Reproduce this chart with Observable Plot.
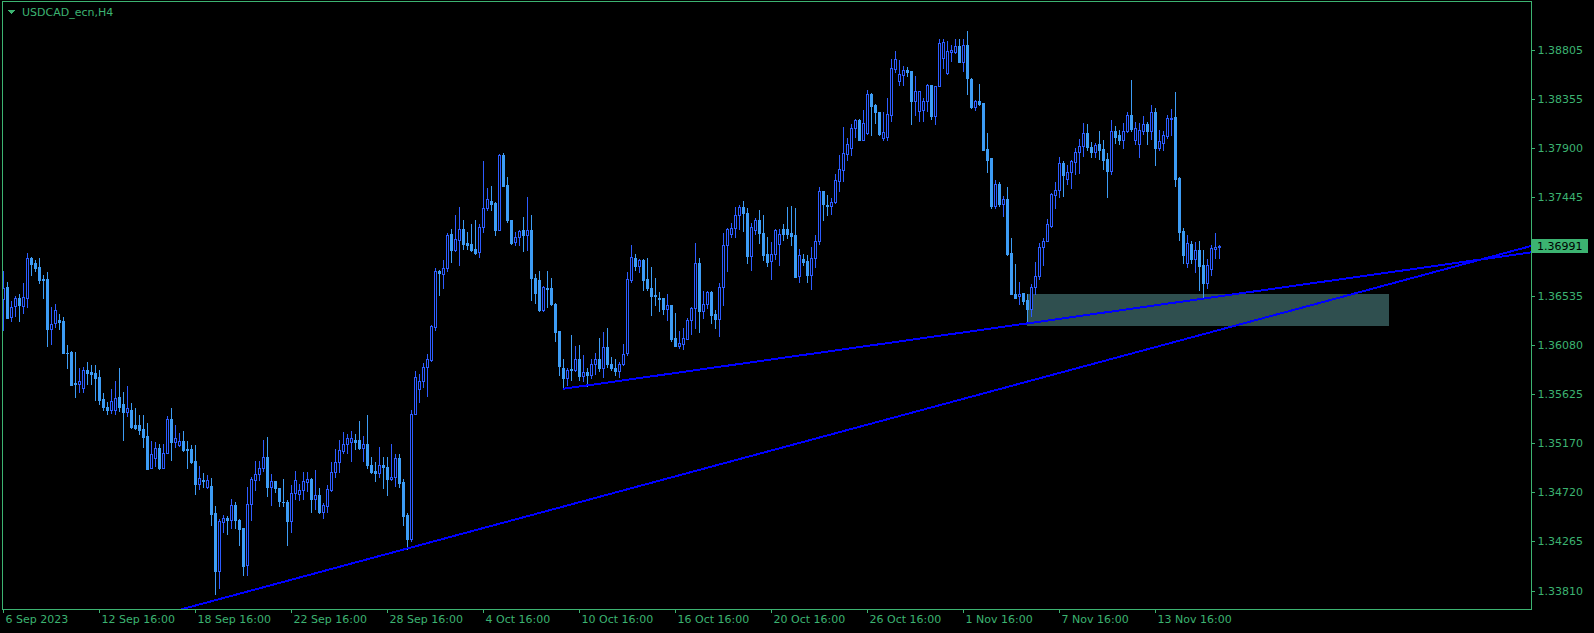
<!DOCTYPE html>
<html><head><meta charset="utf-8">
<script src="https://cdn.jsdelivr.net/npm/d3@7"></script>
<script src="https://cdn.jsdelivr.net/npm/@observablehq/plot@0.6"></script>
<style>html,body{margin:0;padding:0;background:#000;overflow:hidden}#chart{width:1594px;height:633px}</style>
</head><body><div id="chart"></div>
<script>
const symbolTitle = "USDCAD_ecn,H4";

const opens = [
1.36501,1.36608,1.36331,1.36432,1.36504,1.36432,1.36507,1.36879,1.36827,1.36790,
1.36679,1.36679,1.36219,1.36275,1.36309,1.36291,1.36004,1.36007,1.35721,1.35712,
1.35678,1.35839,1.35820,1.35811,1.35774,1.35571,1.35497,1.35478,1.35478,1.35589,
1.35528,1.35453,1.35478,1.35331,1.35331,1.35294,1.35229,1.34936,1.35032,1.35124,
1.34942,1.35079,1.35395,1.35176,1.35152,1.35183,1.35111,1.35109,1.34998,1.34789,
1.34823,1.34765,1.34767,1.34518,1.33984,1.34437,1.34475,1.34456,1.34592,1.34462,
1.34379,1.34038,1.34607,1.34826,1.34884,1.34939,1.35042,1.34761,1.34820,1.34755,
1.34628,1.34628,1.34446,1.34708,1.34696,1.34733,1.34807,1.34832,1.34647,1.34684,
1.34530,1.34585,1.34739,1.34899,1.34991,1.35093,1.35164,1.35176,1.35195,1.35195,
1.35118,1.35164,1.34970,1.34906,1.34894,1.34970,1.34951,1.34832,1.34853,1.35026,
1.34807,1.34502,1.34278,1.35438,1.35669,1.35739,1.35873,1.35931,1.36238,1.36762,
1.36731,1.36781,1.37095,1.36956,1.37048,1.37141,1.37020,1.37011,1.36965,1.36935,
1.37166,1.37341,1.37400,1.37381,1.37135,1.37825,1.37548,1.37233,1.37023,1.37070,
1.37132,1.37088,1.37132,1.36694,1.36670,1.36396,1.36602,1.36596,1.36457,1.36201,
1.35857,1.35771,1.35848,1.35842,1.35949,1.35786,1.35820,1.35795,1.35894,1.35949,
1.35863,1.36054,1.35894,1.35857,1.35830,1.35903,1.35998,1.36670,1.36873,1.36802,
1.36855,1.36679,1.36602,1.36532,1.36504,1.36504,1.36402,1.36448,1.36134,1.36063,
1.36085,1.36131,1.36306,1.36417,1.36834,1.36386,1.36454,1.36566,1.36356,1.36312,
1.36612,1.37002,1.37095,1.37156,1.37272,1.37351,1.37295,1.36894,1.37135,1.37233,
1.37111,1.36910,1.36848,1.36916,1.37011,1.37150,1.37150,1.37104,1.37086,1.36709,
1.36864,1.36848,1.36718,1.36879,1.37032,1.37501,1.37363,1.37356,1.37393,1.37587,
1.37688,1.37840,1.37895,1.38080,1.38148,1.37972,1.38034,1.38388,1.38288,1.38224,
1.37987,1.37993,1.38196,1.38625,1.38510,1.38564,1.38610,1.38601,1.38332,1.38233,
1.38240,1.38325,1.38473,1.38187,1.38464,1.38727,1.38589,1.38778,1.38778,1.38834,
1.38686,1.38849,1.38535,1.38270,1.38332,1.38311,1.37880,1.37803,1.37356,1.37557,
1.37372,1.37427,1.36925,1.36547,1.36525,1.36556,1.36491,1.36402,1.36608,1.36709,
1.36977,1.37032,1.37171,1.37464,1.37504,1.37757,1.37603,1.37674,1.37766,1.37855,
1.37910,1.38034,1.37905,1.37855,1.37935,1.37880,1.37793,1.37680,1.38055,1.38018,
1.37963,1.38049,1.38194,1.37963,1.37926,1.38055,1.38111,1.38055,1.38224,1.37889,
1.37942,1.38009,1.38157,1.38182,1.37618,1.37123,1.36834,1.37011,1.36864,1.36956,
1.36809,1.36649,1.36778,1.36965,1.36981
];
const highs = [
1.36755,1.36654,1.36478,1.36525,1.36541,1.36642,1.36928,1.36891,1.36855,1.36882,
1.36716,1.36750,1.36429,1.36454,1.36356,1.36328,1.36070,1.36016,1.36007,1.35857,
1.35869,1.35921,1.35885,1.35885,1.35845,1.35626,1.35543,1.35665,1.35739,1.35857,
1.35644,1.35693,1.35534,1.35494,1.35423,1.35423,1.35349,1.35183,1.35176,1.35155,
1.35155,1.35416,1.35488,1.35331,1.35257,1.35276,1.35183,1.35146,1.35146,1.34954,
1.34887,1.34875,1.34844,1.34585,1.34465,1.34506,1.34493,1.34647,1.34622,1.34469,
1.34385,1.34765,1.34857,1.35007,1.35007,1.35192,1.35227,1.34878,1.34820,1.34755,
1.34832,1.34638,1.34777,1.34908,1.34786,1.34899,1.34899,1.34841,1.34918,1.34755,
1.34617,1.34777,1.34991,1.35109,1.35192,1.35273,1.35248,1.35278,1.35248,1.35370,
1.35232,1.35425,1.35042,1.34995,1.35134,1.35038,1.35044,1.35155,1.35063,1.35063,
1.34832,1.34518,1.35478,1.35832,1.35808,1.35910,1.35995,1.36263,1.36787,1.36771,
1.36855,1.37111,1.37150,1.37272,1.37347,1.37224,1.37120,1.37187,1.37224,1.37196,
1.37778,1.37526,1.37538,1.37393,1.37834,1.37843,1.37624,1.37233,1.37120,1.37132,
1.37260,1.37439,1.37279,1.36731,1.36762,1.36617,1.36755,1.36694,1.36466,1.36201,
1.35940,1.35857,1.36162,1.36063,1.36072,1.35986,1.35857,1.35940,1.36002,1.36134,
1.36192,1.36232,1.35965,1.35940,1.35921,1.36079,1.36750,1.36993,1.36910,1.36870,
1.36870,1.36873,1.36799,1.36694,1.36566,1.36504,1.36541,1.36448,1.36365,1.36201,
1.36232,1.36319,1.36429,1.37018,1.36879,1.36571,1.36571,1.36571,1.36393,1.36649,
1.37104,1.37156,1.37203,1.37347,1.37365,1.37402,1.37335,1.37203,1.37248,1.37325,
1.37279,1.37074,1.37027,1.37141,1.37150,1.37196,1.37347,1.37356,1.37335,1.36965,
1.36919,1.36901,1.36983,1.37086,1.37532,1.37501,1.37455,1.37433,1.37649,1.37827,
1.38086,1.37987,1.38111,1.38166,1.38163,1.38240,1.38425,1.38404,1.38304,1.38224,
1.38228,1.38351,1.38720,1.38787,1.38711,1.38649,1.38644,1.38601,1.38557,1.38418,
1.38351,1.38486,1.38473,1.38470,1.38905,1.38898,1.38880,1.38843,1.38896,1.38896,
1.38896,1.38972,1.38542,1.38341,1.38488,1.38311,1.38034,1.37803,1.37594,1.37582,
1.37448,1.37536,1.37064,1.36824,1.36658,1.36556,1.36547,1.36633,1.36839,1.37018,
1.37064,1.37242,1.37480,1.37582,1.37813,1.37772,1.37734,1.37787,1.37889,1.37981,
1.38126,1.38111,1.37951,1.37942,1.38055,1.37972,1.37849,1.38148,1.38101,1.38064,
1.38126,1.38224,1.38526,1.38132,1.38126,1.38187,1.38136,1.38295,1.38265,1.38064,
1.38049,1.38194,1.38255,1.38413,1.37627,1.37156,1.37086,1.37032,1.37023,1.37032,
1.36947,1.36864,1.37002,1.37111,1.36995
];
const lows = [
1.36208,1.36319,1.36300,1.36340,1.36300,1.36365,1.36429,1.36718,1.36755,1.36645,
1.36510,1.36063,1.36079,1.36244,1.36219,1.35998,1.35857,1.35700,1.35592,1.35644,
1.35642,1.35712,1.35712,1.35568,1.35525,1.35478,1.35441,1.35450,1.35432,1.35460,
1.35195,1.35416,1.35309,1.35294,1.35248,1.35134,1.34924,1.34936,1.34954,1.34924,
1.34936,1.35072,1.35010,1.35134,1.35139,1.35097,1.34942,1.34986,1.34702,1.34746,
1.34758,1.34752,1.34407,1.33770,1.33831,1.34345,1.34324,1.34385,1.34388,1.34223,
1.33945,1.33945,1.34456,1.34739,1.34823,1.34908,1.34677,1.34594,1.34714,1.34585,
1.34585,1.34225,1.34345,1.34647,1.34641,1.34656,1.34721,1.34534,1.34555,1.34518,
1.34475,1.34530,1.34723,1.34853,1.34899,1.35072,1.35072,1.35000,1.35109,1.35115,
1.35000,1.34939,1.34894,1.34816,1.34857,1.34755,1.34693,1.34826,1.34770,1.34765,
1.34409,1.34185,1.34262,1.35438,1.35550,1.35684,1.35601,1.35924,1.36217,1.36534,
1.36596,1.36762,1.36839,1.36940,1.36811,1.36962,1.36965,1.36940,1.36916,1.36889,
1.37120,1.37319,1.37325,1.37088,1.37135,1.37541,1.37212,1.37008,1.37002,1.37002,
1.36940,1.36956,1.36494,1.36464,1.36386,1.36386,1.36423,1.36441,1.36109,1.35795,
1.35678,1.35700,1.35755,1.35832,1.35755,1.35739,1.35693,1.35771,1.35802,1.35832,
1.35777,1.35869,1.35839,1.35793,1.35774,1.35885,1.35986,1.36658,1.36771,1.36750,
1.36578,1.36578,1.36349,1.36448,1.36386,1.36356,1.36309,1.36109,1.36063,1.36042,
1.36036,1.36125,1.36171,1.36232,1.36196,1.36325,1.36417,1.36279,1.36232,1.36155,
1.36439,1.36755,1.37070,1.37070,1.37150,1.37125,1.36827,1.36771,1.37095,1.37018,
1.36855,1.36802,1.36679,1.36864,1.36809,1.37048,1.37064,1.36995,1.36700,1.36658,
1.36811,1.36658,1.36593,1.36793,1.37011,1.37233,1.37279,1.37285,1.37388,1.37494,
1.37587,1.37781,1.37827,1.37993,1.37963,1.37963,1.38024,1.38011,1.38127,1.38018,
1.37972,1.37972,1.38141,1.38598,1.38480,1.38480,1.38557,1.38111,1.38196,1.38141,
1.38141,1.38233,1.38157,1.38111,1.38464,1.38634,1.38579,1.38695,1.38773,1.38686,
1.38603,1.38388,1.38265,1.38249,1.38288,1.37871,1.37670,1.37341,1.37341,1.37356,
1.37263,1.36903,1.36547,1.36504,1.36454,1.36454,1.36279,1.36340,1.36541,1.36679,
1.36811,1.37032,1.37162,1.37335,1.37439,1.37448,1.37563,1.37526,1.37655,1.37665,
1.37818,1.37871,1.37809,1.37809,1.37796,1.37695,1.37439,1.37649,1.37942,1.37926,
1.37889,1.38039,1.38049,1.37926,1.37813,1.38027,1.37926,1.37981,1.37732,1.37871,
1.37871,1.37987,1.38018,1.37541,1.37048,1.36827,1.36797,1.36827,1.36746,1.36580,
1.36519,1.36602,1.36725,1.36873,1.36873
];
const closes = [
1.36602,1.36325,1.36429,1.36504,1.36439,1.36513,1.36879,1.36824,1.36784,1.36673,
1.36673,1.36219,1.36272,1.36393,1.36284,1.35998,1.35998,1.35709,1.35715,1.35746,
1.35839,1.35814,1.35805,1.35768,1.35565,1.35497,1.35478,1.35553,1.35586,1.35497,
1.35453,1.35488,1.35315,1.35309,1.35288,1.35223,1.34930,1.35069,1.35124,1.34936,
1.35079,1.35386,1.35176,1.35217,1.35183,1.35103,1.35106,1.34991,1.34789,1.34847,
1.34816,1.34823,1.34512,1.33984,1.34444,1.34472,1.34462,1.34592,1.34456,1.34370,
1.34031,1.34607,1.34832,1.34884,1.34939,1.35042,1.34761,1.34820,1.34749,1.34631,
1.34622,1.34446,1.34708,1.34823,1.34739,1.34816,1.34832,1.34647,1.34684,1.34530,
1.34592,1.34746,1.34903,1.34995,1.35100,1.35164,1.35211,1.35211,1.35176,1.35118,
1.35164,1.34963,1.34903,1.34894,1.34963,1.34945,1.34838,1.34857,1.35026,1.34795,
1.34493,1.34278,1.35438,1.35781,1.35739,1.35873,1.35940,1.36247,1.36762,1.36737,
1.36787,1.37086,1.36956,1.37055,1.37141,1.37011,1.37002,1.36956,1.36928,1.37166,
1.37341,1.37427,1.37372,1.37135,1.37825,1.37541,1.37233,1.37018,1.37074,1.37129,
1.37088,1.37132,1.36694,1.36550,1.36396,1.36608,1.36587,1.36457,1.36192,1.35878,
1.35771,1.35839,1.35842,1.35949,1.35786,1.35820,1.35793,1.35903,1.35940,1.35863,
1.36054,1.35894,1.35857,1.35830,1.35903,1.35995,1.36679,1.36891,1.36802,1.36855,
1.36673,1.36596,1.36525,1.36525,1.36497,1.36402,1.36448,1.36125,1.36063,1.36095,
1.36134,1.36309,1.36417,1.36834,1.36386,1.36454,1.36566,1.36349,1.36312,1.36612,
1.37002,1.37141,1.37156,1.37279,1.37351,1.37295,1.36894,1.37166,1.37224,1.37111,
1.36903,1.36839,1.36916,1.37132,1.37095,1.37095,1.37095,1.37079,1.36700,1.36901,
1.36839,1.36718,1.36879,1.37039,1.37501,1.37378,1.37356,1.37397,1.37594,1.37695,
1.37843,1.37932,1.38080,1.38148,1.37972,1.38120,1.38388,1.38279,1.38224,1.38024,
1.38039,1.38212,1.38628,1.38720,1.38573,1.38610,1.38594,1.38332,1.38416,1.38418,
1.38332,1.38473,1.38187,1.38470,1.38865,1.38874,1.38794,1.38803,1.38834,1.38690,
1.38849,1.38542,1.38270,1.38332,1.38304,1.37871,1.37787,1.37356,1.37557,1.37372,
1.37427,1.36919,1.36547,1.36510,1.36547,1.36478,1.36402,1.36608,1.36709,1.36977,
1.37039,1.37187,1.37470,1.37510,1.37757,1.37642,1.37674,1.37772,1.37859,1.37910,
1.38034,1.37901,1.37855,1.37919,1.37874,1.37787,1.37680,1.38055,1.37994,1.37963,
1.38055,1.38203,1.38071,1.38080,1.38064,1.38111,1.38055,1.38224,1.37889,1.37956,
1.38018,1.38173,1.38173,1.37609,1.37116,1.36903,1.37018,1.36864,1.36956,1.36802,
1.36649,1.36809,1.36972,1.36981,1.36991
];

const timeLabels = ["6 Sep 2023","12 Sep 16:00","18 Sep 16:00","22 Sep 16:00","28 Sep 16:00","4 Oct 16:00","10 Oct 16:00","16 Oct 16:00","20 Oct 16:00","26 Oct 16:00","1 Nov 16:00","7 Nov 16:00","13 Nov 16:00"];
const timeLabelBars = [0,24,48,72,96,120,144,168,192,216,240,264,288];
const priceTicks = [1.38805,1.38355,1.37900,1.37445,1.36535,1.36080,1.35625,1.35170,1.34720,1.34265,1.33810];
const lastPrice = 1.36991;

// trend lines: two anchor points (bar, price), drawn as rays to the right
const longLineBars = [40, 304];
const longLinePrices = [1.33597, 1.36223];
const shortLineBars = [140, 256];
const shortLinePrices = [1.35679, 1.36283];
// rectangle zone
const zoneBars = [256, 346.5];
const zonePrices = [1.36257, 1.36550];

const green = "#3cb371";
const upColor = "#2d5cff";
const downColor = "#3d9cf5";
const lineColor = "#0000ff";
const zoneColor = "#2f4f4f";

const xDomain = [-0.25, 382];
const yDomain = [1.33640, 1.39256];

const candles = opens.map((o, i) => ({i, o, h: highs[i], l: lows[i], c: closes[i], up: closes[i] > o}));
const bulls = candles.filter(d => d.up);
const bears = candles.filter(d => !d.up);

function ray(bars, prices) {
  const s = (prices[1] - prices[0]) / (bars[1] - bars[0]);
  return [{b: bars[0], p: prices[0]}, {b: xDomain[1], p: prices[0] + s * (xDomain[1] - bars[0])}];
}
const pxPrice = (yDomain[1] - yDomain[0]) / 608;

const chart = Plot.plot({
  width: 1594, height: 633,
  marginLeft: 2, marginRight: 63, marginTop: 1, marginBottom: 24,
  x: {domain: xDomain, axis: null},
  y: {domain: yDomain, axis: null},
  style: {background: "#000", color: green, fontFamily: "DejaVu Sans, sans-serif", fontSize: "11px", shapeRendering: "crispEdges"},
  marks: [
    Plot.rect([0], {x1: () => zoneBars[0], x2: () => zoneBars[1], y1: () => zonePrices[0], y2: () => zonePrices[1], fill: zoneColor}),
    Plot.rect(bears, {x1: d => d.i - 0.125, x2: d => d.i + 0.125, y1: "l", y2: "h", fill: downColor, insetTop: -0.5, insetBottom: -0.5}),
    Plot.rect(bulls, {x1: d => d.i - 0.125, x2: d => d.i + 0.125, y1: "l", y2: "h", fill: upColor, insetTop: -0.5, insetBottom: -0.5}),
    Plot.rect(bears, {x1: d => d.i - 0.375, x2: d => d.i + 0.375, y1: "o", y2: "c", fill: downColor, insetTop: -0.5, insetBottom: -0.5}),
    Plot.rect(bulls, {x1: d => d.i - 0.375, x2: d => d.i + 0.375, y1: "o", y2: "c", fill: upColor, insetTop: -0.5, insetBottom: -0.5}),
    Plot.rect(bulls.filter(d => (d.c - d.o) > 1.5 * pxPrice), {x1: d => d.i - 0.125, x2: d => d.i + 0.125, y1: "o", y2: "c", fill: "#000", insetTop: 0.5, insetBottom: 0.5}),
    Plot.line(ray(longLineBars, longLinePrices), {x: "b", y: "p", stroke: lineColor, strokeWidth: 2, clip: true}),
    Plot.line(ray(shortLineBars, shortLinePrices), {x: "b", y: "p", stroke: lineColor, strokeWidth: 2, clip: true}),
    Plot.frame({stroke: green}),
    Plot.ruleY(priceTicks, {y: d => d, x1: () => xDomain[1], x2: () => xDomain[1] + 1, stroke: green}),
    Plot.text(priceTicks, {y: d => d, text: d => d.toFixed(5), frameAnchor: "right", textAnchor: "start", dx: 6, fill: green, fontSize: 11, fontFamily: "DejaVu Sans"}),
    Plot.ruleX(timeLabelBars, {x: d => d, y1: () => yDomain[0], y2: () => yDomain[0] - 4 * pxPrice, stroke: green}),
    Plot.text(timeLabels, {x: (d, i) => timeLabelBars[i], text: d => d, frameAnchor: "bottom", textAnchor: "start", dx: 2, dy: 13, fill: green, fontSize: 11, fontFamily: "DejaVu Sans"})
  ]
});

document.getElementById("chart").appendChild(chart);

// chart header and current price box
const svg = d3.select(chart);
svg.append("path").attr("d", "M7,10 L15,10 L11,14 Z").attr("fill", green);
svg.append("text").attr("x", 22).attr("y", 12.5).attr("dy", "0.35em").attr("text-anchor", "start").attr("fill", green)
  .style("font", "11px 'DejaVu Sans'").text(symbolTitle);
const yLast = chart.scale("y").apply(lastPrice);
svg.append("rect").attr("x", 1532).attr("y", Math.round(yLast) - 7).attr("width", 56).attr("height", 14).attr("fill", green);
svg.append("text").attr("x", 1537).attr("y", Math.round(yLast)).attr("dy", "0.35em").attr("text-anchor", "start").attr("fill", "#000")
  .style("font", "11px 'DejaVu Sans'").text(lastPrice.toFixed(5));
</script>
</body></html>
